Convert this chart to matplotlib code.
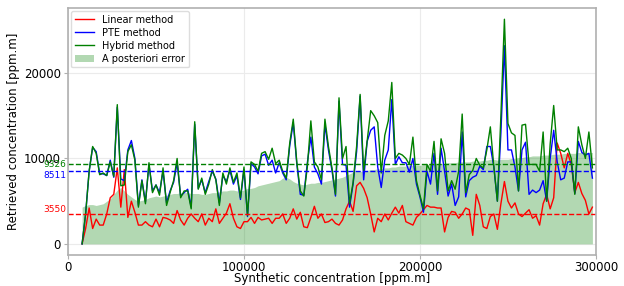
import numpy as np
import matplotlib
matplotlib.use("Agg")
import matplotlib.pyplot as plt

# synthetic concentration grid [ppm.m]
x = np.arange(8000, 300000, 2000)

linear = [0, 1800, 4200, 1800, 2900, 2200, 2200, 3500, 5400, 5800,
          8900, 4300, 8700, 3100, 5000, 3700, 2200, 2200, 2600, 2200,
          2000, 2900, 2000, 3100, 3000, 2800, 2400, 3900, 2800, 2200,
          3000, 3500, 3000, 2600, 3500, 2200, 3000, 2600, 4100, 2400,
          3000, 3600, 4700, 3000, 2000, 1800, 2600, 2600, 3100, 2400,
          3100, 2800, 2900, 3000, 2400, 3000, 3000, 3500, 2400, 3000,
          4100, 2900, 3700, 2000, 1900, 3100, 4400, 3000, 3500, 2500,
          2600, 2900, 2400, 2200, 2800, 4100, 5000, 3800, 6800, 7200,
          6500, 5400, 3500, 1400, 3000, 2600, 3500, 2800, 3600, 4300,
          3600, 4500, 2600, 2400, 2200, 3100, 3500, 4000, 4500, 4300,
          4300, 4200, 4200, 1400, 3100, 3800, 3700, 3000, 3500, 4200,
          4000, 1000, 5800, 4500, 2000, 1800, 3200, 3500, 1700, 4700,
          7300, 5000, 4200, 4800, 3500, 3200, 3600, 4000, 3000, 3300,
          2200, 4700, 5800, 4100, 5400, 11800, 10600, 8900, 10600, 9300,
          6000, 7200, 5900, 5100, 3500, 4300]

pte = [0, 3500, 8500, 11300, 10800, 8200, 8200, 8000, 9800, 7800,
       16000, 7600, 7400, 11000, 12100, 10000, 4500, 7500, 4900, 9300,
       6200, 6900, 6000, 8500, 4800, 6200, 7200, 9500, 5600, 6000,
       6400, 4300, 14000, 6500, 7500, 6000, 7300, 8500, 7600, 4800,
       8000, 7300, 8600, 7000, 8000, 5200, 8700, 3200, 9400, 9000,
       8200, 10300, 10500, 9200, 9800, 8300, 9500, 8300, 7500, 11500,
       14200, 9400, 5800, 5700, 9500, 12500, 9000, 8200, 7000, 14000,
       11000, 8600, 5600, 16700, 9300, 9200, 4300, 7000, 10800, 17300,
       7500, 12000, 13300, 13700, 9000, 6600, 9800, 11000, 16900, 9300,
       10200, 9500, 9500, 8400, 10000, 7000, 5500, 3700, 8500, 7000,
       10600, 5800, 11200, 8500, 5600, 7000, 4500, 5500, 13100, 5500,
       7400, 7800, 8000, 9100, 8700, 11400, 11400, 9000, 5000, 13000,
       23200, 11000, 11000, 9000, 6200, 11000, 11900, 5800, 6300, 6000,
       6300, 7400, 5000, 10000, 13300, 9600, 7500, 7700, 9600, 9600,
       5900, 12000, 10700, 10400, 10600, 7700]

hybrid = [0, 3500, 8500, 11400, 10600, 8100, 8300, 8000, 9600, 7900,
          16300, 6800, 6900, 10800, 11600, 9800, 4300, 7400, 4700, 9500,
          6000, 6900, 5700, 8900, 4500, 6000, 7400, 10000, 5400, 6200,
          6200, 4100, 14300, 6400, 7700, 5800, 7000, 8700, 7500, 4500,
          8300, 7000, 8900, 7200, 8300, 5400, 9000, 3300, 9600, 9300,
          8500, 10600, 10800, 9900, 11200, 9400, 9800, 8500, 7700, 11800,
          14600, 9600, 6200, 5600, 9000, 14400, 9600, 9000, 7500, 14600,
          11400, 8900, 5800, 17100, 10000, 11400, 4700, 7200, 11400, 17500,
          8500, 12000, 15600, 15000, 14200, 8300, 12700, 14400, 18900, 10000,
          10600, 10400, 10000, 9300, 12500, 7400, 5700, 4100, 9300, 8500,
          12000, 6200, 12300, 10600, 6200, 7400, 6400, 8500, 15200, 6000,
          8100, 8600, 10000, 9200, 8900, 11000, 13700, 9000, 5000, 15000,
          26300, 14100, 13000, 12700, 6200, 13900, 14000, 9300, 9300, 9300,
          8500, 13100, 5000, 11700, 16200, 11000, 11000, 10800, 11200, 10000,
          5800, 13700, 11600, 10000, 13100, 8900]

post_error = [4300, 4500, 4600, 4600, 4500, 4600, 4700, 5000, 5300, 5800,
              6300, 6600, 6200, 5800, 5500, 5200, 5000, 5100, 5200, 5400,
              5500, 5600, 5500, 5600, 5700, 5800, 5900, 5900, 6000, 6000,
              6000, 5900, 5900, 5900, 5800, 5800, 5900, 6000, 6000, 6100,
              6200, 6200, 6300, 6300, 6200, 6200, 6300, 6500, 6500, 6600,
              6800, 6900, 7000, 7100, 7200, 7300, 7400, 7700, 7800, 7600,
              7300, 7100, 7000, 6900, 7000, 7100, 7100, 7200, 7200, 7300,
              7400, 7500, 7600, 7700, 7800, 8000, 8200, 8400, 8500, 8500,
              8500, 8600, 8700, 8700, 8800, 8800, 8900, 8900, 9000, 9000,
              9100, 9100, 9100, 9200, 9200, 9200, 9200, 9300, 9300, 9300,
              9300, 9400, 9400, 9400, 9500, 9500, 9500, 9600, 9600, 9600,
              9600, 9700, 9700, 9700, 9800, 9800, 9900, 9900, 9800, 9900,
              9900, 9900, 10000, 10000, 10100, 10100, 10200, 10200, 10300, 10300,
              10300, 10400, 10400, 10400, 10500, 10500, 10500, 10600, 10600, 10600,
              10600, 10700, 10700, 10700, 10700, 10700]

# mean values shown as dashed lines
means = {"hybrid": 9326, "pte": 8511, "linear": 3550}

fig = plt.figure(figsize=(6.24, 2.86), dpi=100)
ax = fig.add_axes([0.109, 0.108, 0.846, 0.864])

ax.plot(x, linear, color="red", lw=1.0, label="Linear method")
ax.plot(x, pte, color="blue", lw=1.0, label="PTE method")
ax.plot(x, hybrid, color="green", lw=1.0, label="Hybrid method")
ax.fill_between(x, 0, post_error, color="green", alpha=0.3, lw=0,
                label="A posteriori error", zorder=1)

ax.axhline(means["hybrid"], color="green", ls="--", lw=1)
ax.axhline(means["pte"], color="blue", ls="--", lw=1)
ax.axhline(means["linear"], color="red", ls="--", lw=1)

trans = ax.get_yaxis_transform()
ax.text(-0.003, means["hybrid"], str(means["hybrid"]), color="green",
        fontsize=6.5, ha="right", va="center", transform=trans)
ax.text(-0.003, means["pte"], str(means["pte"]), color="blue",
        fontsize=6.5, ha="right", va="top", transform=trans)
ax.text(-0.003, means["linear"], str(means["linear"]), color="red",
        fontsize=6.5, ha="right", va="bottom", transform=trans)

ax.set_xlim(0, 300000)
ax.set_xticks([0, 100000, 200000, 300000])
ax.set_yticks([0, 10000, 20000])
ax.grid(True, color="#ebebeb", lw=0.8)
ax.set_axisbelow(True)
for s in ax.spines.values():
    s.set_color("#b0b0b0")
    s.set_linewidth(1.2)
ax.tick_params(labelsize=8.5, length=3, color="#b0b0b0", pad=2)
ax.tick_params(axis="x", pad=1)

ax.set_xlabel("Synthetic concentration [ppm.m]", fontsize=8.5, labelpad=-1)
ax.set_ylabel("Retrieved concentration [ppm.m]", fontsize=8.5, labelpad=3)

ax.legend(loc="upper left", fontsize=7, framealpha=1, edgecolor="#dddddd",
          borderaxespad=0.3, handlelength=2.0, labelspacing=0.3)

fig.savefig("out.png", dpi=100)
